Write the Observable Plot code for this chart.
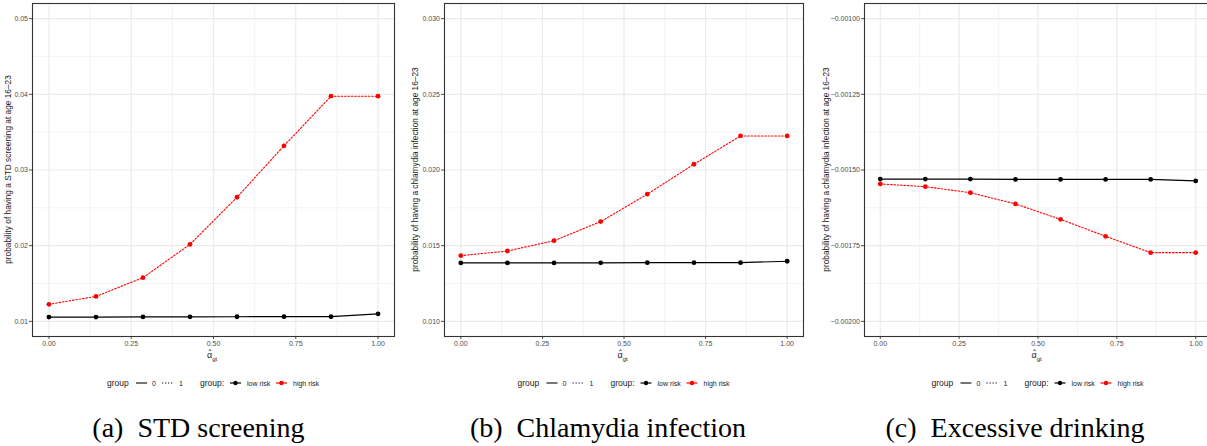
<!DOCTYPE html>
<html>
<head>
<meta charset="utf-8">
<script src="https://cdn.jsdelivr.net/npm/d3@7"></script>
<script src="https://cdn.jsdelivr.net/npm/@observablehq/plot@0.6"></script>
<style>
  html, body { margin: 0; padding: 0; background: #fff; }
  #root { position: relative; width: 1207px; height: 446px; overflow: hidden; background: #fff; }
  .panel { position: absolute; top: 0; }
  #overlay { position: absolute; left: 0; top: 0; pointer-events: none; }
</style>
</head>
<body>
<div id="root"></div>
<script>
// ---------- data ----------
const alphaValues = [0, 0.1429, 0.2857, 0.4286, 0.5714, 0.7143, 0.8571, 1];
const xTicks = [0, 0.25, 0.5, 0.75, 1];
const xTickLabels = ["0.00", "0.25", "0.50", "0.75", "1.00"];
const xMinor = [0.125, 0.375, 0.625, 0.875];

// (a) STD screening
const screeningLow  = [0.01057, 0.01057, 0.01058, 0.01060, 0.01061, 0.01062, 0.01062, 0.01100];
const screeningHigh = [0.01225, 0.01330, 0.01577, 0.02017, 0.02640, 0.03320, 0.03975, 0.03975];
const screeningYTicks = [0.01, 0.02, 0.03, 0.04, 0.05];
const screeningYLabels = ["0.01", "0.02", "0.03", "0.04", "0.05"];
const screeningYMinor = [0.015, 0.025, 0.035, 0.045];

// (b) Chlamydia infection
const chlamydiaLow  = [0.01386, 0.01386, 0.01386, 0.01387, 0.01388, 0.01388, 0.01388, 0.01397];
const chlamydiaHigh = [0.01434, 0.01465, 0.01533, 0.01659, 0.01840, 0.02038, 0.02225, 0.02225];
const chlamydiaYTicks = [0.010, 0.015, 0.020, 0.025, 0.030];
const chlamydiaYLabels = ["0.010", "0.015", "0.020", "0.025", "0.030"];
const chlamydiaYMinor = [0.0125, 0.0175, 0.0225, 0.0275];

// (c) Excessive drinking
const drinkingLow  = [-0.001530, -0.001530, -0.001530, -0.001531, -0.001531, -0.001531, -0.001531, -0.001536];
const drinkingHigh = [-0.001546, -0.001555, -0.001575, -0.001612, -0.001663, -0.001719, -0.001773, -0.001773];
const drinkingYTicks = [-0.0020, -0.00175, -0.0015, -0.00125, -0.0010];
const drinkingYLabels = ["\u22120.00200", "\u22120.00175", "\u22120.00150", "\u22120.00125", "\u22120.00100"];
const drinkingYMinor = [-0.001875, -0.001625, -0.001375, -0.001125];

const legendLineLabels = ["0", "1"];
const legendRiskLabels = ["low risk", "high risk"];
const captions = ["(a)\u2002STD screening", "(b)\u2002Chlamydia infection", "(c)\u2002Excessive drinking"];
const yLabels = [
  "probability of having a STD screening at age 16\u201323",
  "probability of having a chlamydia infection at age 16\u201323",
  "probability of having a chlamydia infection at age 16\u201323"
];

// ---------- layout ----------
const H = 365, MT = 3, MB = 29;
const panels = [
  {left: 0,   width: 400, ml: 32, mr: 6, domain: [0.008, 0.052], yTicks: screeningYTicks, yLabels: screeningYLabels, yMinor: screeningYMinor, low: screeningLow, high: screeningHigh, ylab: yLabels[0], ylabX: 8, caption: captions[0], capX: 198.5},
  {left: 400, width: 404, ml: 44, mr: 1, domain: [0.0090, 0.0310], yTicks: chlamydiaYTicks, yLabels: chlamydiaYLabels, yMinor: chlamydiaYMinor, low: chlamydiaLow, high: chlamydiaHigh, ylab: yLabels[1], ylabX: 415, caption: captions[1], capX: 608},
  {left: 800, width: 411, ml: 64, mr: 0, domain: [-0.00205, -0.00095], yTicks: drinkingYTicks, yLabels: drinkingYLabels, yMinor: drinkingYMinor, low: drinkingLow, high: drinkingHigh, ylab: yLabels[2], ylabX: 826, caption: captions[2], capX: 1015}
];

const root = document.getElementById("root");
const FONT = "'Liberation Sans', Arial, Helvetica, sans-serif";

for (const p of panels) {
  const lowData = alphaValues.map((x, i) => ({x, y: p.low[i]}));
  const highData = alphaValues.map((x, i) => ({x, y: p.high[i]}));
  const chart = Plot.plot({
    width: p.width, height: H,
    marginLeft: p.ml, marginRight: p.mr, marginTop: MT, marginBottom: MB,
    x: {domain: [-0.05, 1.05]},
    y: {domain: p.domain},
    style: {fontFamily: FONT, background: "transparent", overflow: "visible"},
    marks: [
      Plot.gridX(xMinor, {stroke: "#ebebeb", strokeOpacity: 1, strokeWidth: 0.6}),
      Plot.gridY(p.yMinor, {stroke: "#ebebeb", strokeOpacity: 1, strokeWidth: 0.6}),
      Plot.gridX(xTicks, {stroke: "#ebebeb", strokeOpacity: 1, strokeWidth: 1.2}),
      Plot.gridY(p.yTicks, {stroke: "#ebebeb", strokeOpacity: 1, strokeWidth: 1.2}),
      Plot.axisX(xTicks, {tickSize: 3, tickPadding: 2, fontSize: 7, color: "#4d4d4d", label: null,
        tickFormat: d => xTickLabels[xTicks.indexOf(d)]}),
      Plot.axisY(p.yTicks, {tickSize: 3, tickPadding: 1.5, fontSize: 7, color: "#4d4d4d", label: null,
        tickFormat: d => p.yLabels[p.yTicks.indexOf(d)]}),
      Plot.line(lowData, {x: "x", y: "y", stroke: "black", strokeWidth: 1.2}),
      Plot.line(highData, {x: "x", y: "y", stroke: "red", strokeWidth: 1.1, strokeDasharray: "1.6,1.8"}),
      Plot.dot(lowData, {x: "x", y: "y", fill: "black", r: 2.4}),
      Plot.dot(highData, {x: "x", y: "y", fill: "red", r: 2.4}),
      Plot.frame({stroke: "#333", strokeWidth: 1.1})
    ]
  });
  chart.classList.add("panel");
  chart.style.left = p.left + "px";
  root.appendChild(chart);
}

// ---------- overlay: axis titles, legends, captions ----------
const svg = d3.select(root).append("svg").attr("id", "overlay")
  .attr("width", 1207).attr("height", 446);

for (const p of panels) {
  const plotL = p.left + p.ml, plotR = p.left + p.width - p.mr;
  const cx = (plotL + plotR) / 2;
  const cy = (MT + (H - MB)) / 2;

  // y title
  svg.append("text").attr("transform", `translate(${p.ylabX},${cy}) rotate(-90)`)
    .attr("text-anchor", "middle").attr("dominant-baseline", "central")
    .attr("font-family", FONT).attr("font-size", 8.3).attr("fill", "#1a1a1a").text(p.ylab);

  // x title: alpha with a hat, subscript gt
  const xt = svg.append("text").attr("x", cx - 6).attr("y", 358)
    .attr("text-anchor", "start").attr("font-family", FONT).attr("font-size", 9).attr("fill", "#1a1a1a");
  xt.append("tspan").text("\u03b1");
  xt.append("tspan").attr("font-size", 6).attr("dy", 2.5).text("gt");
  svg.append("text").attr("x", cx - 3).attr("y", 356).attr("text-anchor", "middle")
    .attr("font-family", FONT).attr("font-size", 9).attr("fill", "#1a1a1a").text("\u02c6");

  // legend
  const ly = 383;
  const g = svg.append("g").attr("transform", `translate(${cx},${ly})`)
    .attr("font-family", FONT).attr("fill", "#1a1a1a");
  g.append("text").attr("x", -106).attr("dominant-baseline", "central").attr("font-size", 8.5).text("group");
  g.append("line").attr("x1", -77).attr("x2", -66).attr("stroke", "#1a1a1a").attr("stroke-width", 1.2);
  g.append("text").attr("x", -61).attr("dominant-baseline", "central").attr("font-size", 7).text(legendLineLabels[0]);
  g.append("line").attr("x1", -51).attr("x2", -40).attr("stroke", "#1a1a1a").attr("stroke-width", 1.1).attr("stroke-dasharray", "1.3,1.7");
  g.append("text").attr("x", -34).attr("dominant-baseline", "central").attr("font-size", 7).text(legendLineLabels[1]);
  g.append("text").attr("x", -13).attr("dominant-baseline", "central").attr("font-size", 8.5).text("group:");
  g.append("line").attr("x1", 17).attr("x2", 28).attr("stroke", "black").attr("stroke-width", 1.2);
  g.append("circle").attr("cx", 22.5).attr("r", 2.2).attr("fill", "black");
  g.append("text").attr("x", 34).attr("dominant-baseline", "central").attr("font-size", 7).text(legendRiskLabels[0]);
  g.append("line").attr("x1", 63).attr("x2", 74).attr("stroke", "red").attr("stroke-width", 1.2);
  g.append("circle").attr("cx", 68.5).attr("r", 2.2).attr("fill", "red");
  g.append("text").attr("x", 80).attr("dominant-baseline", "central").attr("font-size", 7).text(legendRiskLabels[1]);

  // caption
  svg.append("text").attr("x", p.capX).attr("y", 437).attr("text-anchor", "middle")
    .attr("font-family", "'Liberation Serif', 'Times New Roman', serif").attr("font-size", 28)
    .attr("fill", "black").text(p.caption);
}
</script>
</body>
</html>
